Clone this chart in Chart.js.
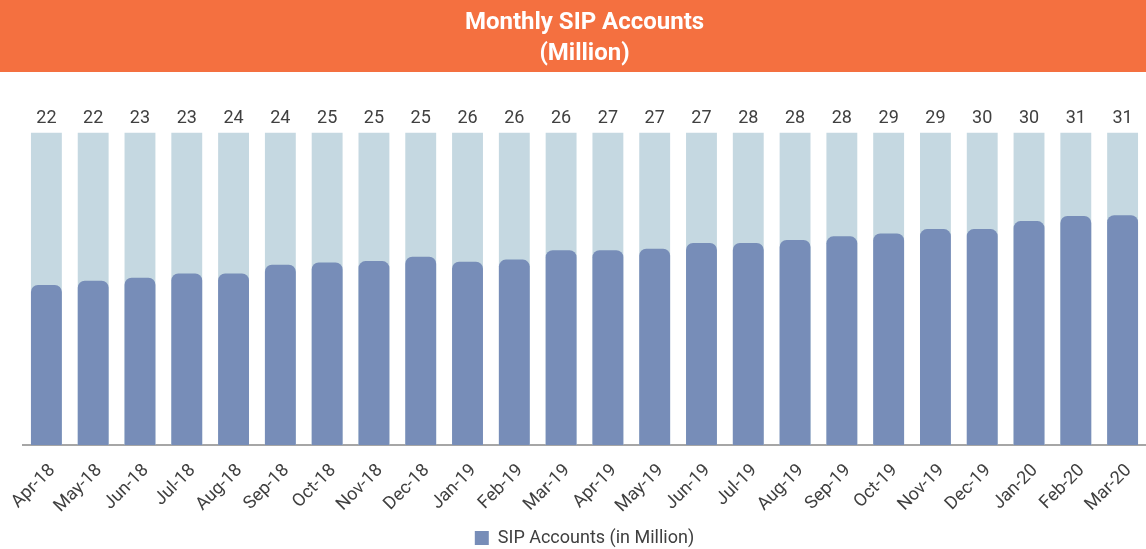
<!DOCTYPE html>
<html>
<head>
<meta charset="utf-8">
<script src="https://cdn.jsdelivr.net/npm/chart.js@4"></script>
<style>
  body { margin: 0; background: #fff; }
  #wrap { width: 1146px; height: 549px; position: relative; }
</style>
</head>
<body>
<div id="wrap"><canvas id="sipChart"></canvas></div>
<script>
// Monthly SIP accounts chart
const months = ['Apr-18', 'May-18', 'Jun-18', 'Jul-18', 'Aug-18', 'Sep-18', 'Oct-18', 'Nov-18',
    'Dec-18', 'Jan-19', 'Feb-19', 'Mar-19', 'Apr-19', 'May-19', 'Jun-19', 'Jul-19', 'Aug-19',
    'Sep-19', 'Oct-19', 'Nov-19', 'Dec-19', 'Jan-20', 'Feb-20', 'Mar-20'];
// bar heights as drawn (million)
const sipAccounts = [22.0, 22.6, 23.0, 23.6, 23.6, 24.8, 25.1, 25.3, 25.9, 25.2, 25.5, 26.8,
    26.8, 27.0, 27.8, 27.8, 28.2, 28.7, 29.1, 29.7, 29.7, 30.8, 31.5, 31.6];
// value labels printed above the bars
const valueLabels = [22, 22, 23, 23, 24, 24, 25, 25, 25, 26, 26, 26,
    27, 27, 27, 28, 28, 28, 29, 29, 30, 30, 31, 31];
// grey track behind each bar
const trackMax = 43;
const trackValues = months.map(() => trackMax);

const bannerPlugin = {
    id: 'banner',
    beforeDraw(chart) {
        const c = chart.ctx;
        c.save();
        c.fillStyle = '#F47040';
        c.fillRect(0, 0, chart.width, 72);
        c.restore();
    }
};

const topLabels = {
    id: 'topLabels',
    afterDatasetsDraw(chart) {
        const c = chart.ctx;
        const meta = chart.getDatasetMeta(1);
        c.save();
        c.font = '18px Roboto';
        c.fillStyle = '#404040';
        c.textAlign = 'center';
        c.textBaseline = 'middle';
        meta.data.forEach((bar, i) => {
            c.fillText(valueLabels[i], bar.x, chart.chartArea.top - 14);
        });
        c.restore();
    }
};

new Chart(document.getElementById('sipChart'), {
    type: 'bar',
    data: {
        labels: months,
        datasets: [
            {
                label: 'track',
                data: trackValues,
                backgroundColor: '#C5D8E1',
                grouped: false,
                barPercentage: 0.66,
                categoryPercentage: 1,
                order: 2
            },
            {
                label: 'SIP Accounts (in Million)',
                data: sipAccounts,
                backgroundColor: '#778DB8',
                borderRadius: { topLeft: 7, topRight: 7 },
                borderSkipped: 'bottom',
                grouped: false,
                barPercentage: 0.66,
                categoryPercentage: 1,
                order: 1
            }
        ]
    },
    options: {
        responsive: true,
        maintainAspectRatio: false,
        animation: false,
        layout: { padding: { left: 23, right: 0, top: 0, bottom: -8 } },
        plugins: {
            title: {
                display: true,
                text: ['Monthly SIP Accounts', '(Million)'],
                color: '#ffffff',
                font: { family: 'Roboto', size: 24, weight: 'bold', lineHeight: 1.3 },
                padding: { top: 7, bottom: 63 }
            },
            legend: {
                position: 'bottom',
                labels: {
                    filter: (item) => item.datasetIndex === 1,
                    boxWidth: 14,
                    boxHeight: 14,
                    color: '#404040',
                    font: { family: 'Roboto', size: 18 },
                    padding: 2
                }
            },
            tooltip: { enabled: false }
        },
        scales: {
            x: {
                afterFit: (scale) => {
                    scale.height = 82;
                    scale.paddingLeft = 0;
                    scale.paddingRight = 0;
                },
                grid: { display: false, drawTicks: false },
                border: { display: true, color: '#A6A6A6', width: 2 },
                ticks: {
                    color: '#404040',
                    font: { family: 'Roboto', size: 18 },
                    minRotation: 45,
                    maxRotation: 45,
                    padding: 15,
                    labelOffset: 6
                }
            },
            y: {
                display: false,
                min: 0,
                max: trackMax
            }
        }
    },
    plugins: [bannerPlugin, topLabels]
});
</script>
</body>
</html>
